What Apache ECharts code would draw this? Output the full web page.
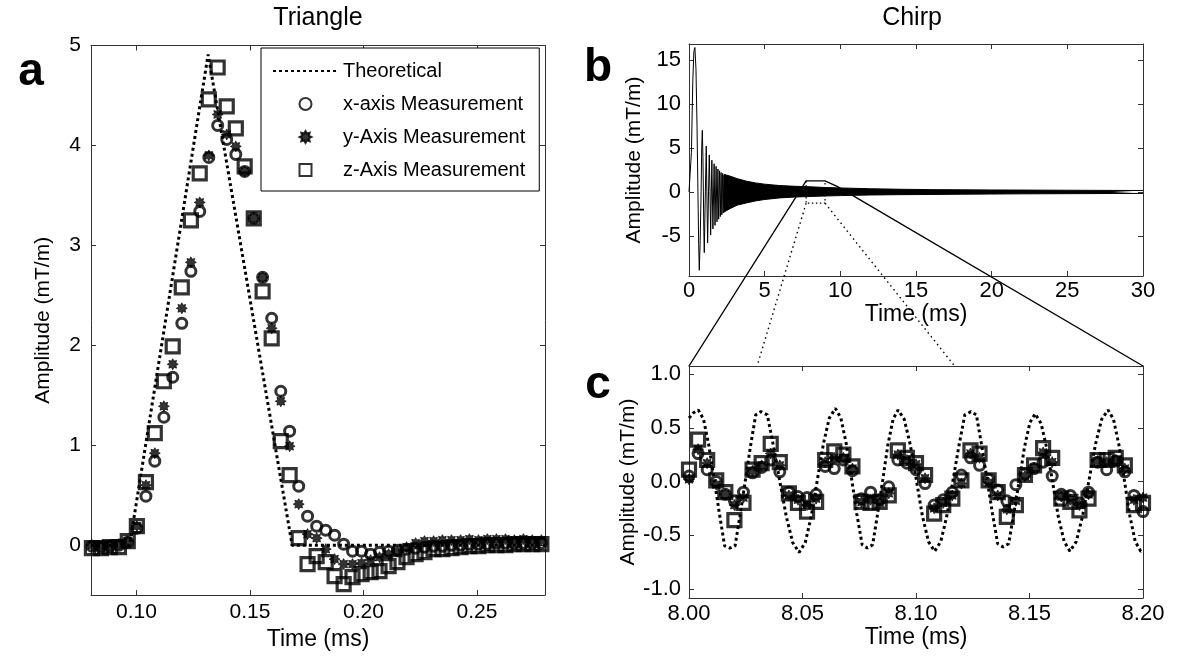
<!DOCTYPE html>
<html><head><meta charset="utf-8">
<script src="https://cdn.jsdelivr.net/npm/echarts@6/dist/echarts.min.js"></script>
<style>html,body{margin:0;padding:0;background:#fff}#c{width:1180px;height:656px}</style>
</head><body><div id="c"></div>
<script>
// ---------- Panel a: Triangle ----------
const triTheoryT = [0.08, 0.097, 0.1316, 0.1686, 0.28];
const triTheoryV = [0, 0, 4.91, 0, 0];
const triTime = [0.0804,0.0844,0.0883,0.0923,0.0962,0.1002,0.1042,0.1081,0.1121,0.1160,0.1200,0.1240,0.1279,0.1319,0.1358,0.1398,0.1438,0.1477,0.1517,0.1556,0.1596,0.1636,0.1675,0.1715,0.1754,0.1794,0.1834,0.1873,0.1913,0.1952,0.1992,0.2032,0.2071,0.2111,0.2150,0.2190,0.2230,0.2269,0.2309,0.2348,0.2388,0.2428,0.2467,0.2507,0.2546,0.2586,0.2626,0.2665,0.2705,0.2744,0.2784];
const triX = [-0.01,-0.02,-0.01,0.00,0.03,0.17,0.49,0.84,1.28,1.68,2.22,2.74,3.34,3.88,4.20,4.06,3.91,3.74,3.27,2.68,2.27,1.54,1.14,0.59,0.29,0.19,0.15,0.10,0.01,-0.06,-0.06,-0.09,-0.07,-0.06,-0.05,-0.04,-0.03,-0.02,-0.01,-0.01,0.00,0.00,0.01,0.01,0.01,0.02,0.02,0.02,0.02,0.02,0.02];
const triY = [0.00,-0.01,0.00,0.01,0.04,0.19,0.60,0.92,1.39,1.81,2.37,2.83,3.43,3.90,4.31,4.11,3.99,3.74,3.27,2.68,2.17,1.44,0.99,0.41,0.11,0.07,-0.04,-0.14,-0.19,-0.19,-0.18,-0.15,-0.12,-0.09,-0.06,-0.02,0.02,0.04,0.04,0.05,0.05,0.05,0.06,0.05,0.06,0.06,0.06,0.05,0.06,0.05,0.05];
const triZ = [-0.03,-0.03,-0.02,-0.02,0.04,0.19,0.63,1.12,1.64,1.99,2.58,3.25,3.72,4.46,4.78,4.39,4.17,3.79,3.27,2.54,2.07,1.04,0.70,0.07,-0.19,-0.11,-0.17,-0.31,-0.39,-0.32,-0.29,-0.27,-0.26,-0.21,-0.17,-0.12,-0.09,-0.07,-0.04,-0.04,-0.03,-0.02,-0.01,-0.01,0.00,0.00,0.00,0.01,0.01,0.01,0.01];
const triXTicks = [0.10, 0.15, 0.20, 0.25];
const triYTicks = [0, 1, 2, 3, 4, 5];

// ---------- Panel b: Chirp ----------
const chirpT = [0,0.07,0.16,0.25,0.32,0.39,0.46,0.53,0.59,0.64,0.68,0.74,0.80,0.84,0.88,0.92,0.95,0.98,1.01,1.05,1.08,1.14,1.18,1.23,1.29,1.34,1.39,1.43,1.51,1.58,1.66,1.72,1.79,1.85,1.91,1.96,2.02,2.07,2.12,2.17,2.22,2.26,2.31,2.35];
const chirpV = [0,0,4.5,12.5,15.9,16.4,14.0,7.5,0,-6.0,-8.9,-5.5,0,5.0,7.0,4.0,0,-4.5,-6.9,-3.0,0,5.2,0,-5.8,0,4.2,0,-4.9,3.6,-4.2,3.2,-3.8,2.9,-3.4,2.6,-3.1,2.4,-2.8,2.2,-2.6,2.1,-2.4,1.9,-2.3];
const chirpBandT  = [2.3,2.7,3.2,3.8,4.4,5.0,6.0,7.0,8.0,9.0,10,12,14,16,18,20,22,25,28,30];
const chirpBandUp = [2.0,1.8,1.5,1.22,1.02,0.88,0.72,0.64,0.58,0.50,0.45,0.36,0.30,0.26,0.24,0.22,0.21,0.19,0.17,0.16];
const chirpBandLo = [-2.3,-1.9,-1.5,-1.25,-1.02,-0.86,-0.68,-0.58,-0.52,-0.46,-0.42,-0.35,-0.31,-0.29,-0.26,-0.24,-0.22,-0.20,-0.18,-0.17];
const chirpYTicks = [-5, 0, 5, 10, 15];
// zoom annotation (data space of panel b / panel c)
const boxT = [7.74, 8.99];
const boxV = [1.25, -1.28];
const trapEndB = [9.82, 0.6];
const dotEndsC = [8.030, 8.117];

// ---------- Panel c: Chirp zoom ----------
const zoomTheoryT = [8.0000,8.0020,8.0041,8.0064,8.0087,8.0111,8.0134,8.0157,8.0180,8.0203,8.0226,8.0249,8.0271,8.0294,8.0317,8.0345,8.0373,8.0401,8.0429,8.0457,8.0485,8.0512,8.0538,8.0565,8.0592,8.0618,8.0645,8.0669,8.0692,8.0716,8.0739,8.0763,8.0786,8.0809,8.0831,8.0854,8.0876,8.0899,8.0921,8.0948,8.0975,8.1002,8.1028,8.1055,8.1082,8.1109,8.1135,8.1162,8.1189,8.1215,8.1242,8.1266,8.1289,8.1313,8.1337,8.1360,8.1384,8.1408,8.1431,8.1455,8.1478,8.1502,8.1525,8.1551,8.1576,8.1602,8.1627,8.1653,8.1678,8.1706,8.1734,8.1762,8.1790,8.1818,8.1846,8.1870,8.1894,8.1918,8.1942,8.1966,8.1990,8.2000];
const zoomTheoryV = [0.59,0.64,0.665,0.58,0.34,0.02,-0.30,-0.60,-0.62,-0.60,-0.30,0.02,0.33,0.62,0.65,0.62,0.32,-0.01,-0.33,-0.57,-0.66,-0.57,-0.33,0.01,0.35,0.59,0.68,0.59,0.36,0.03,-0.30,-0.59,-0.62,-0.59,-0.30,0.02,0.34,0.58,0.665,0.58,0.34,0.01,-0.32,-0.56,-0.65,-0.56,-0.33,0.00,0.33,0.62,0.65,0.62,0.34,0.02,-0.30,-0.58,-0.61,-0.58,-0.30,0.01,0.32,0.55,0.63,0.54,0.31,-0.01,-0.33,-0.56,-0.65,-0.56,-0.32,0.01,0.34,0.58,0.665,0.58,0.34,0.01,-0.32,-0.56,-0.65,-0.64];
const zoomTime = [8.000,8.004,8.008,8.012,8.016,8.020,8.024,8.028,8.032,8.036,8.040,8.044,8.048,8.052,8.056,8.060,8.064,8.068,8.072,8.076,8.080,8.084,8.088,8.092,8.096,8.100,8.104,8.108,8.112,8.116,8.120,8.124,8.128,8.132,8.136,8.140,8.144,8.148,8.152,8.156,8.160,8.164,8.168,8.172,8.176,8.180,8.184,8.188,8.192,8.196,8.200];
const zoomX = [0.05,0.26,0.11,0.00,-0.12,-0.18,-0.10,0.08,0.13,0.20,0.09,-0.10,-0.14,-0.15,-0.12,0.14,0.12,0.20,0.10,-0.16,-0.10,-0.17,-0.05,0.20,0.17,0.11,-0.02,-0.22,-0.17,-0.10,0.06,0.22,0.15,0.02,-0.08,-0.18,-0.03,0.07,0.12,0.18,0.05,-0.12,-0.13,-0.20,-0.10,0.18,0.11,0.19,0.09,-0.13,-0.28];
const zoomY = [0.02,0.30,0.17,-0.03,-0.12,-0.22,-0.15,0.10,0.15,0.26,0.15,-0.13,-0.17,-0.22,-0.16,0.18,0.22,0.22,0.12,-0.19,-0.17,-0.20,-0.11,0.25,0.20,0.16,0.03,-0.25,-0.20,-0.13,-0.02,0.26,0.22,-0.01,-0.13,-0.26,-0.18,0.05,0.13,0.27,0.18,-0.14,-0.17,-0.22,-0.12,0.19,0.18,0.20,0.12,-0.17,-0.15];
const zoomZ = [0.11,0.39,0.20,0.01,-0.10,-0.36,-0.20,0.11,0.17,0.35,0.18,-0.11,-0.20,-0.28,-0.19,0.20,0.28,0.25,0.14,-0.19,-0.20,-0.19,-0.13,0.29,0.22,0.17,0.06,-0.30,-0.22,-0.16,0.01,0.29,0.26,0.01,-0.10,-0.33,-0.22,0.06,0.15,0.31,0.22,-0.16,-0.19,-0.27,-0.16,0.20,0.20,0.22,0.15,-0.22,-0.20];
const zoomXTicks = [8.00, 8.05, 8.10, 8.15, 8.20];
const zoomYTicks = [-1, -0.5, 0, 0.5, 1];

// ---------- build ----------
const FONT = 'Liberation Sans, Arial, Helvetica, sans-serif';
const AX = '#333';
const zip = (a, b) => a.map((v, i) => [v, b[i]]);
const starPath = (() => {
  const pts = [];
  for (let i = 0; i < 16; i++) {
    const r = i % 2 === 0 ? 1 : 0.62;
    const a = Math.PI * i / 8 - Math.PI / 2;
    pts.push((r * Math.cos(a)).toFixed(3) + ' ' + (r * Math.sin(a)).toFixed(3));
  }
  return 'path://M' + pts.join(' L') + ' Z';
})();
const squarePath = 'path://M0 0 L10 0 L10 10 L0 10 Z';

function axis(grid, pos, min, max, o) {
  o = o || {};
  const a = {
    type: 'value', gridIndex: grid, position: pos, min: min, max: max,
    axisLine: { show: true, onZero: false, lineStyle: { color: AX, width: 1 } },
    axisTick: { show: true, inside: true, length: 5, lineStyle: { color: AX, width: 1 } },
    splitLine: { show: false },
    axisLabel: { show: !!o.labels, color: '#000', fontFamily: FONT, fontSize: o.fs || 20, margin: o.margin || 8,
                 formatter: o.fmt },
  };
  if (o.interval) a.interval = o.interval;
  if (o.ticks) { a.axisTick.customValues = o.ticks; a.axisLabel.customValues = o.ticks; }
  if (o.name) {
    a.name = o.name; a.nameLocation = 'middle'; a.nameGap = o.gap;
    a.nameTextStyle = { color: '#000', fontFamily: FONT, fontSize: o.nfs || 22 };
  }
  return a;
}

const f2 = v => v.toFixed(2);
const f1 = v => v.toFixed(1);
const f0 = v => String(Math.round(v));

const xAxes = [
  axis(0, 'bottom', 0.08, 0.28, { labels: true, ticks: triXTicks, fmt: f2, fs: 21, margin: 7, name: 'Time (ms)', gap: 26, nfs: 23 }),
  axis(0, 'top', 0.08, 0.28, { ticks: triXTicks }),
  axis(1, 'bottom', 0, 30, { labels: true, interval: 5, fmt: f0, fs: 22, margin: 4, name: 'Time (ms)', gap: 24, nfs: 23 }),
  axis(1, 'top', 0, 30, { interval: 5 }),
  axis(2, 'bottom', 8.0, 8.2, { labels: true, ticks: zoomXTicks, fmt: f2, fs: 22, margin: 5, name: 'Time (ms)', gap: 24, nfs: 23 }),
  axis(2, 'top', 8.0, 8.2, { ticks: zoomXTicks }),
];
const yAxes = [
  axis(0, 'left', -0.5, 5, { labels: true, ticks: triYTicks, fmt: f0, fs: 21, margin: 10, name: 'Amplitude (mT/m)', gap: 37, nfs: 21 }),
  axis(0, 'right', -0.5, 5, { ticks: triYTicks }),
  axis(1, 'left', -9.55, 16.8, { labels: true, ticks: chirpYTicks, fmt: f0, fs: 22, margin: 8, name: 'Amplitude (mT/m)', gap: 44, nfs: 21 }),
  axis(1, 'right', -9.55, 16.8, { ticks: chirpYTicks }),
  axis(2, 'left', -1.085, 1.075, { labels: true, ticks: zoomYTicks, fmt: f1, fs: 22, margin: 8, name: 'Amplitude (mT/m)', gap: 44, nfs: 21 }),
  axis(2, 'right', -1.085, 1.075, { ticks: zoomYTicks }),
];

const dotted = { color: '#000', width: 3, type: [3, 3] };
const circleStyle = { color: 'rgba(0,0,0,0)', borderColor: '#000', borderWidth: 3 };
const squareStyle = { color: 'rgba(0,0,0,0)', borderColor: '#000', borderWidth: 3.2 };
const starStyle = { color: '#000', borderColor: '#000', borderWidth: 0.8 };
const hiddenSymbol = { color: 'rgba(0,0,0,0)', borderColor: 'rgba(0,0,0,0)' };

function measSeries(ax, t, x, y, z) {
  return [
    { name: 'x-axis Measurement', type: 'scatter', xAxisIndex: ax, yAxisIndex: ax, data: zip(t, x),
      symbol: 'circle', symbolSize: 10, itemStyle: circleStyle, z: 2 },
    { name: 'y-Axis Measurement', type: 'scatter', xAxisIndex: ax, yAxisIndex: ax, data: zip(t, y),
      symbol: starPath, symbolSize: 11, symbolKeepAspect: true, itemStyle: starStyle, z: 3 },
    { name: 'z-Axis Measurement', type: 'scatter', xAxisIndex: ax, yAxisIndex: ax, data: zip(t, z),
      symbol: squarePath, symbolSize: 13, symbolKeepAspect: true, itemStyle: squareStyle, z: 4 },
  ];
}

const series = [
  { name: 'Theoretical', type: 'line', xAxisIndex: 0, yAxisIndex: 0, data: zip(triTheoryT, triTheoryV),
    symbol: 'none', itemStyle: hiddenSymbol, lineStyle: dotted, z: 1 },
  ...measSeries(0, triTime, triX, triY, triZ),

  { name: 'chirp', type: 'line', xAxisIndex: 2, yAxisIndex: 2, data: zip(chirpT, chirpV),
    symbol: 'none', lineStyle: { color: '#000', width: 1 }, z: 2 },
  { name: 'chirpUp', type: 'line', xAxisIndex: 2, yAxisIndex: 2, data: zip(chirpBandT, chirpBandUp),
    symbol: 'none', lineStyle: { color: '#000', width: 1 }, areaStyle: { color: '#000', opacity: 1 }, z: 2 },
  { name: 'chirpLo', type: 'line', xAxisIndex: 2, yAxisIndex: 2, data: zip(chirpBandT, chirpBandLo),
    symbol: 'none', lineStyle: { color: '#000', width: 1 }, areaStyle: { color: '#000', opacity: 1 }, z: 2 },

  { name: 'Theoretical', type: 'line', xAxisIndex: 4, yAxisIndex: 4, data: zip(zoomTheoryT, zoomTheoryV),
    symbol: 'none', itemStyle: hiddenSymbol, lineStyle: dotted, z: 1 },
  ...measSeries(4, zoomTime, zoomX, zoomY, zoomZ),
];

const chart = echarts.init(document.getElementById('c'), null, { renderer: 'canvas' });
chart.setOption({
  animation: false,
  backgroundColor: '#fff',
  grid: [
    { left: 91, top: 45.5, width: 454, height: 552.5 },
    { left: 689, top: 44, width: 454, height: 232 },
    { left: 689, top: 366, width: 454, height: 232 },
  ],
  xAxis: xAxes,
  yAxis: yAxes,
  legend: {
    data: ['Theoretical', 'x-axis Measurement', 'y-Axis Measurement', 'z-Axis Measurement'],
    orient: 'vertical', left: 261, top: 48, itemWidth: 65, itemHeight: 12, itemGap: 13,
    symbolKeepAspect: true,
    padding: [13, 14, 11, 11], borderColor: '#000', borderWidth: 1, backgroundColor: '#fff',
    selectedMode: false, textStyle: { color: '#000', fontFamily: FONT, fontSize: 20 },
  },
  series: series,
});

// annotations & titles
const pb = p => chart.convertToPixel({ xAxisIndex: 2, yAxisIndex: 2 }, p);
const pc = p => chart.convertToPixel({ xAxisIndex: 4, yAxisIndex: 4 }, p);
const cTop = 1.075;
const solidPts = [pc([8.0, cTop]), pb([boxT[0], boxV[0]]), pb([boxT[1], boxV[0]]), pb(trapEndB), pc([8.2, cTop])];
const rectPts = [pb([boxT[0], boxV[0]]), pb([boxT[0], boxV[1]]), pb([boxT[1], boxV[1]]), pb([boxT[1], boxV[0]])];
const dotL = [pb([boxT[0], boxV[1]]), pc([dotEndsC[0], cTop])];
const dotR = [pb([boxT[1], boxV[1]]), pc([dotEndsC[1], cTop])];
const txt = (id, x, y, s, size, weight) => ({ id: id, type: 'text', x: x, y: y, z: 100,
  style: { text: s, font: (weight || 'normal') + ' ' + size + 'px ' + FONT, fill: '#000', textAlign: 'center', textVerticalAlign: 'middle' } });
chart.setOption({
  graphic: [
    { id: 'solid', type: 'polyline', z: 50, shape: { points: solidPts }, style: { stroke: '#000', lineWidth: 1.4, fill: null } },
    { id: 'rect', type: 'polyline', z: 50, shape: { points: rectPts }, style: { stroke: '#000', lineWidth: 1.2, lineDash: [1.5, 2.5], fill: null } },
    { id: 'dl', type: 'polyline', z: 50, shape: { points: dotL }, style: { stroke: '#000', lineWidth: 1.4, lineDash: [1.5, 3.5], fill: null } },
    { id: 'dr', type: 'polyline', z: 50, shape: { points: dotR }, style: { stroke: '#000', lineWidth: 1.4, lineDash: [1.5, 3.5], fill: null } },
    txt('t1', 318, 18, 'Triangle', 25),
    txt('t2', 912, 18, 'Chirp', 25),
    txt('la', 31, 72, 'a', 46, 'bold'),
    txt('lb', 598, 68, 'b', 46, 'bold'),
    txt('lc', 598, 385, 'c', 46, 'bold'),
  ]
});
</script>
</body></html>
